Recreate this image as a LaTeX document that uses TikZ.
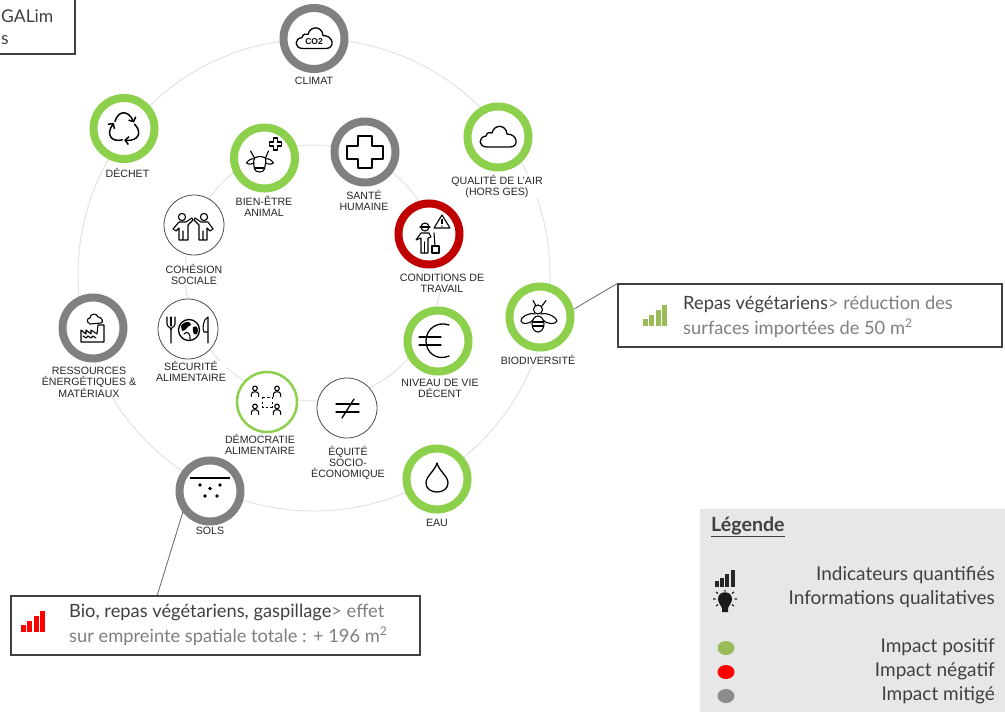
\documentclass[tikz,border=0pt]{standalone}
\usepackage{fontspec}
\setmainfont{Liberation Sans}
\newfontfamily\boxfont{Lato}
\usetikzlibrary{arrows.meta}
\definecolor{ringgreen}{HTML}{8CD04C}
\definecolor{ringgray}{HTML}{808080}
\definecolor{ringred}{HTML}{C00000}
\definecolor{softgray}{HTML}{7F7F7F}
\definecolor{darktxt}{HTML}{404040}
\definecolor{legendbg}{HTML}{E7E7E7}
\definecolor{legdotgreen}{HTML}{9BBB59}
\newcommand{\sqm}{{\fontsize{12}{12}\selectfont\raisebox{6.5pt}{2}}}
\tikzset{
  ringgreenst/.style={circle,draw=ringgreen,line width=8pt,fill=white,minimum size=61pt,inner sep=0pt},
  ringgrayst/.style={circle,draw=ringgray,line width=8pt,fill=white,minimum size=61pt,inner sep=0pt},
  ringredst/.style={circle,draw=ringred,line width=8pt,fill=white,minimum size=61pt,inner sep=0pt},
  thinst/.style={circle,draw=black!70,line width=.8pt,fill=white,minimum size=60pt,inner sep=0pt},
  demost/.style={circle,draw=ringgreen,line width=2.5pt,fill=white,minimum size=60pt,inner sep=0pt},
  guide/.style={circle,draw=black!11,line width=1pt,inner sep=0pt},
  lab/.style={font=\fontsize{10.6}{11}\selectfont,text=black!85,align=center,fill=white,inner sep=.6pt},
  icon/.style={draw=black,line width=1.3pt,line join=round,line cap=round},
  iconthin/.style={draw=black,line width=1.1pt,line join=round,line cap=round},
  callout/.style={draw=darktxt,line width=1.2pt,fill=white,inner sep=0pt},
  calloutline/.style={draw=black!60,line width=.8pt},
  boxtxt/.style={font=\fontsize{18.3}{24}\selectfont\boxfont,text=darktxt,align=left,inner sep=0pt,anchor=west},
  topbox/.style={font=\fontsize{17.5}{24}\selectfont\boxfont,text=darktxt,inner sep=0pt,anchor=west},
  legtxt/.style={font=\fontsize{19}{24}\selectfont\boxfont,text=darktxt,inner sep=0pt,anchor=east},
  pics/barsicon/.style={code={
    \fill[#1] (0,21) rectangle (5,14);
    \fill[#1] (6.3,21) rectangle (11.3,10);
    \fill[#1] (12.6,21) rectangle (17.6,5);
    \fill[#1] (18.9,21) rectangle (23.9,0);
  }},
  pics/cloudicon/.style={code={
    \draw[icon] (-11,10) .. controls (-20,10) and (-20,0) .. (-12,-1)
      .. controls (-11,-5) and (-8,-5) .. (-6,-4)
      .. controls (-4,-13) and (8,-13) .. (9,-3)
      .. controls (20,-3) and (21,10) .. (12,10) -- cycle;
  }},
  pics/personicon/.style={code={
    \draw[iconthin] (0,-3.6) circle (2.3);
    \draw[iconthin] (-3.6,4.5) -- (-3.6,2) .. controls (-3.6,-1) and (3.6,-1) .. (3.6,2) -- (3.6,4.5);
  }},
}
\begin{document}
\begin{tikzpicture}[x=1pt,y=-1pt]
\useasboundingbox (0,0) rectangle (1005,712);
\fill[white] (0,0) rectangle (1005,712);

% guide rings
\node[guide,minimum size=472pt] (outerring) at (314,275) {};
\node[guide,minimum size=256pt] (innerring) at (313,273) {};

% top-left cut box
\coordinate (tlA) at (0,54);
\coordinate (tlB) at (75,54);
\coordinate (tlC) at (75,0);
\draw[draw=darktxt,line width=1.2pt] (tlA) -- (tlB) -- (tlC);
\node[topbox] (tltext1) at (1,16) {GALim};
\node[topbox] (tltext2) at (1,40) {s};

% labels
\node[lab] (lclimat) at (314,81) {CLIMAT};
\node[lab] (ldechet) at (127.5,173) {DÉCHET};
\node[lab] (lbien) at (264,206.5) {BIEN-ÊTRE\\ANIMAL};
\node[lab] (lsante) at (364,200.5) {SANTÉ\\HUMAINE};
\node[lab] (lair) at (497,186.5) {QUALITÉ DE L’AIR\\(HORS GES)};
\node[lab] (lcond) at (442,283.5) {CONDITIONS DE\\TRAVAIL};
\node[lab] (lniveau) at (440,388) {NIVEAU DE VIE\\DÉCENT};
\node[lab] (lbio) at (538,360) {BIODIVERSITÉ};
\node[lab] (lcoh) at (194,274.5) {COHÉSION\\SOCIALE};
\node[lab] (lsec) at (191,371.5) {SÉCURITÉ\\ALIMENTAIRE};
\node[lab] (lres) at (89,382) {RESSOURCES\\ÉNERGÉTIQUES \&\\MATÉRIAUX};
\node[lab] (ldem) at (260,444.5) {DÉMOCRATIE\\ALIMENTAIRE};
\node[lab] (lequ) at (348,462.5) {ÉQUITÉ\\SOCIO-\\ÉCONOMIQUE};
\node[lab] (lsols) at (210,531) {SOLS};
\node[lab] (leau) at (437,523) {EAU};

% ring nodes
\node[ringgrayst] (climat) at (314,38.5) {};
\node[ringgreenst] (dechet) at (124,128.5) {};
\node[ringgreenst] (bien) at (264.5,158) {};
\node[ringgrayst] (sante) at (365,152) {};
\node[ringgreenst] (air) at (498,137) {};
\node[ringredst] (cond) at (429,234) {};
\node[ringgreenst] (niveau) at (438,341) {};
\node[ringgreenst] (bio) at (540,317) {};
\node[thinst] (coh) at (194,225) {};
\node[thinst] (sec) at (188,329) {};
\node[ringgrayst] (res) at (93,328) {};
\node[demost] (dem) at (267,402) {};
\node[thinst] (equ) at (347,408) {};
\node[ringgrayst] (sols) at (210,491) {};
\node[ringgreenst] (eau) at (437,479) {};

% icons
\begin{scope}[shift={(climat.center)}]
  \pic {cloudicon};
  \node[font=\fontsize{8.5}{9}\selectfont\bfseries,inner sep=0pt] (co2) at (0,3) {CO2};
\end{scope}
\begin{scope}[shift={(air.center)}]
  \pic {cloudicon};
\end{scope}
\begin{scope}[shift={(dechet.center)}]
  \foreach \a in {0,120,240}{
    \draw[line width=1.5pt,line cap=round,rotate=\a,-{Straight Barb[length=3.5pt,width=8pt]}]
      (-9,-7) .. controls (-6,-18) and (4,-19) .. (10,-6);
  }
\end{scope}
\begin{scope}[shift={(bien.center)}]
  \draw[iconthin] (-10,0) .. controls (-6,-2) and (-3,-2) .. (1,0)
     .. controls (2,5) and (0,8) .. (0,11) .. controls (-1,15) and (-9,15) .. (-10,11)
     .. controls (-10,8) and (-12,5) .. (-10,0) -- cycle;
  \draw[iconthin] (-10,1) .. controls (-13,0) and (-16,2) .. (-18,5) .. controls (-15,7) and (-12,6) .. (-10.5,5);
  \draw[iconthin] (1,1) .. controls (4,0) and (7,2) .. (9,5) .. controls (6,7) and (3,6) .. (1,5);
  \draw[iconthin] (-10,0) -- (-14,-7);
  \draw[iconthin] (1,0) -- (4,-7);
  \draw[iconthin] (-9,10) -- (-1,10);
  \begin{scope}[shift={(11,-14)}]
    \draw[iconthin] (-2,-6) -- (2,-6) -- (2,-2) -- (6,-2) -- (6,2) -- (2,2) -- (2,6) -- (-2,6) -- (-2,2) -- (-6,2) -- (-6,-2) -- (-2,-2) -- cycle;
  \end{scope}
\end{scope}
\begin{scope}[shift={(sante.center)}]
  \draw[icon] (-7,-16) -- (7,-16) -- (7,-6) -- (18,-6) -- (18,7) -- (7,7) -- (7,16) -- (-7,16) -- (-7,7) -- (-18,7) -- (-18,-6) -- (-7,-6) -- cycle;
\end{scope}
\begin{scope}[shift={(cond.center)}]
  \draw[iconthin] (-4,-7) circle (4);
  \draw[iconthin] (-9,-7) -- (1,-7);
  \draw[iconthin] (-8,-1) -- (0,-1) -- (2,3) -- (-1,4) -- (-1,19) -- (-8,19) -- (-8,4) -- (-13,6) -- (-8,-1);
  \draw[iconthin] (-4.5,8) -- (-4.5,19);
  \draw[iconthin] (5,-1) -- (6,12);
  \draw[iconthin,fill=white] (3,12) rectangle (10,19);
  \draw[iconthin] (13,-19) -- (21,-6) -- (5,-6) -- cycle;
  \draw[line width=1.2pt] (13,-15) -- (13,-10);
  \fill (13,-7.9) circle (.8);
\end{scope}
\begin{scope}[shift={(niveau.center)}]
  \draw[icon] (11,-16) .. controls (-1,-20) and (-12,-12) .. (-12,0) .. controls (-12,12) and (-1,20) .. (11,15);
  \draw[iconthin] (-19,-4) -- (3,-4);
  \draw[iconthin] (-19,4) -- (3,4);
\end{scope}
\begin{scope}[shift={(bio.center)}]
  \draw[iconthin] (-7,-16.5) -- (-4,-11);
  \draw[iconthin] (6,-16.5) -- (2,-11);
  \draw[iconthin] (-2,-7.5) circle (4.5);
  \draw[iconthin] (-5,-3) .. controls (-12,-5) and (-20,1) .. (-19,4) .. controls (-18,8) and (-10,7) .. (-7,3);
  \draw[iconthin] (1,-3) .. controls (8,-5) and (17,1) .. (17,4) .. controls (16,8) and (6,7) .. (3,3);
  \draw[iconthin,fill=white] (-2,7) ellipse (6 and 8);
  \draw[iconthin] (-7.5,5) -- (3.5,5);
  \draw[iconthin] (-7.5,9) -- (3.5,9);
\end{scope}
\begin{scope}[shift={(coh.center)}]
  \draw[iconthin] (-12,-8) circle (3.6);
  \draw[iconthin] (10,-8) circle (3.6);
  \draw[iconthin] (-21,4) -- (-15,-3) -- (-8,-3) -- (-2,-7) -- (-1,-5) -- (-6,0) -- (-6,15) -- (-11,15) -- (-11,6) -- (-11,15) -- (-15,15) -- (-15,3) -- (-18,6) -- cycle;
  \draw[iconthin] (19,4) -- (14,-3) -- (7,-3) -- (1,-7) -- (0,-5) -- (5,0) -- (5,15) -- (9,15) -- (9,6) -- (9,15) -- (13,15) -- (13,3) -- (16,6) -- cycle;
\end{scope}
\begin{scope}[shift={(sec.center)}]
  \draw[iconthin] (-21,-12) -- (-21,-5) .. controls (-21,-2) and (-17,-2) .. (-17,1) -- (-17,14);
  \draw[iconthin] (-17,-12) -- (-17,-3);
  \draw[iconthin] (-13,-12) -- (-13,-5) .. controls (-13,-2) and (-17,-2) .. (-17,1);
  \draw[icon] (1,1) circle (10.5);
  \fill[black] (-7,-3) .. controls (-3,-9) and (3,-8) .. (3,-4) .. controls (-1,-3) and (-2,2) .. (-6,2) -- cycle;
  \draw[iconthin] (-4,5) .. controls (-1,1) and (3,5) .. (2,10);
  \fill[black] (5,-2) .. controls (10,-5) and (11,2) .. (9,5) .. controls (6,7) and (4,3) .. (5,-2);
  \draw[iconthin] (20,14) -- (20,-12) .. controls (15,-10) and (14,0) .. (16,3) -- (20,3);
\end{scope}
\begin{scope}[shift={(res.center)}]
  \draw[iconthin] (-12,14) -- (-12,2) -- (-7,6) -- (-7,2) -- (-2,6) -- (-2,2) -- (4,6) -- (5,-3) -- (11,-3) -- (11,14) -- cycle;
  \draw[iconthin] (-10,8) -- (-7,10) -- (-5,8) -- (-2,10) -- (0,8) -- (3,10);
  \draw[iconthin] (-3,-4) .. controls (-7,-6) and (-6,-10) .. (-3,-10) .. controls (-3,-15) and (4,-15) .. (5,-11) .. controls (9,-11) and (11,-6) .. (8,-5) -- (-3,-4);
\end{scope}
\begin{scope}[shift={(dem.center)}]
  \pic at (-12,-10) {personicon};
  \pic at (10,-10) {personicon};
  \pic at (-12,8) {personicon};
  \pic at (10,8) {personicon};
  \draw[draw=black,line width=.8pt,dash pattern=on 2.4pt off 2.2pt] (-5,-5) rectangle (5,5);
\end{scope}
\begin{scope}[shift={(equ.center)}]
  \draw[icon] (-11,-4) -- (12,-4);
  \draw[icon] (-11,4) -- (12,4);
  \draw[icon] (-5,10) -- (7,-9);
\end{scope}
\begin{scope}[shift={(eau.center)}]
  \draw[icon] (0,-16) .. controls (2,-8) and (11,-3) .. (11,4) .. controls (11,16) and (-11,16) .. (-11,4) .. controls (-11,-3) and (-2,-8) .. (0,-16) -- cycle;
\end{scope}
\begin{scope}[shift={(sols.center)}]
  \draw[line width=1.6pt] (-20,-13) -- (20,-13);
  \foreach \p in {(-10,-6),(0,-2.5),(10,-6),(-5,5),(7,5)}{\fill \p circle (1.9);}
\end{scope}

% callouts
\node[callout,minimum width=384pt,minimum height=63pt] (box1) at (810,315.5) {};
\node[callout,minimum width=409pt,minimum height=59pt] (box2) at (215.5,625.5) {};
\coordinate (box2top) at (157.3,595);
\draw[calloutline] (bio.13) -- (box1.north west);
\draw[calloutline] (sols.218) -- (box2top);
\pic at (643,305) {barsicon={legdotgreen}};
\pic at (21,611) {barsicon={red}};
\node[boxtxt] (t1a) at (683,304) {Repas végétariens{\color{softgray}> réduction des}};
\node[boxtxt,text=softgray] (t1b) at (683,328) {surfaces importées de 50 m\sqm};
\node[boxtxt] (t2a) at (69,612) {Bio, repas végétariens, gaspillage{\color{softgray}> effet}};
\node[boxtxt,text=softgray] (t2b) at (69,636) {sur empreinte spatiale totale : + 196 m\sqm};

% legend
\fill[legendbg] (700,509) rectangle (1005,712);
\node[boxtxt,font=\fontsize{19.6}{24}\selectfont\boxfont\bfseries] (legtitle) at (711,527) {\underline{Légende}};
\begin{scope}[shift={(715,570)},scale=.82]
  \pic[transform shape] {barsicon={black!85}};
\end{scope}
\begin{scope}[shift={(725,601)}]
  \fill[black!90] (-3,11) -- (3,11) -- (3,7) .. controls (4,4) and (7,2) .. (7,-2) .. controls (7,-11) and (-7,-11) .. (-7,-2) .. controls (-7,2) and (-4,4) .. (-3,7) -- cycle;
  \draw[line width=1.1pt,black!90] (-12,-2) -- (-9.5,-2) (9.5,-2) -- (12,-2) (-9,-9) -- (-7,-7.5) (9,-9) -- (7,-7.5) (-9,5) -- (-7,3.5) (9,5) -- (7,3.5) (0,-11) -- (0,-9.5);
\end{scope}
\node[legtxt] (li1) at (995,575.5) {Indicateurs quantifiés};
\node[legtxt] (li2) at (995,599.5) {Informations qualitatives};
\node[legtxt] (li3) at (995,647.5) {Impact positif};
\node[legtxt] (li4) at (995,671.5) {Impact négatif};
\node[legtxt] (li5) at (995,695.5) {Impact mitigé};
\fill[legdotgreen] (726,648) ellipse (8.5 and 7);
\fill[red] (726,672) ellipse (8.5 and 7);
\fill[black!45] (726,696) ellipse (8.5 and 7);
\end{tikzpicture}
\end{document}
